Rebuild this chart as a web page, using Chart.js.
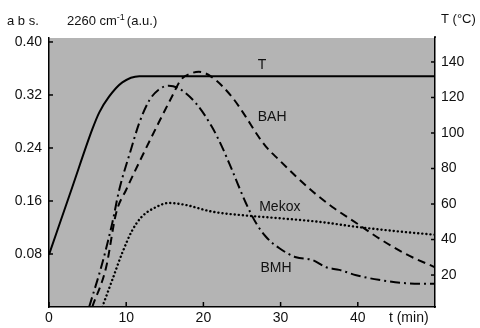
<!DOCTYPE html>
<html>
<head>
<meta charset="utf-8">
<script src="https://cdn.jsdelivr.net/npm/chart.js@4/dist/chart.umd.min.js"></script>
<style>
  html, body { margin: 0; padding: 0; background: #fff; }
  #wrap { width: 480px; height: 328px; }
</style>
</head>
<body>
<div id="wrap"><canvas id="grafico" width="480" height="328"></canvas></div>
<script>
// tempo (min) e valores
const tempT = [0, 3.0, 5.6, 6.5, 7.8, 9.5, 11.7, 50];
const tempV = [31.5, 69.3, 102, 111.5, 120.6, 128.5, 132, 132];

const bahT = [5.6, 7.4, 8.7, 10.0, 12.0, 14.2, 15.9, 17.1, 18.5, 19.4, 21.1, 23.7, 25.5, 26.8, 28.1, 29.8, 32.0, 34.6, 36.7, 39.9, 42.7, 46.2, 50];
const bahV = [0, 0.060, 0.142, 0.177, 0.226, 0.278, 0.317, 0.343, 0.353, 0.355, 0.347, 0.317, 0.287, 0.263, 0.242, 0.222, 0.197, 0.170, 0.151, 0.126, 0.104, 0.080, 0.060];

const bmhT = [5.2, 6.9, 8.2, 9.1, 10.6, 11.7, 13.0, 14.2, 15.5, 16.8, 19.0, 21.1, 22.4, 23.7, 25.5, 26.8, 28.1, 29.8, 32.0, 34.1, 35.9, 37.6, 39.8, 42.7, 46.2, 50];
const bmhV = [0, 0.066, 0.127, 0.177, 0.237, 0.278, 0.312, 0.328, 0.334, 0.330, 0.308, 0.272, 0.242, 0.207, 0.157, 0.127, 0.106, 0.089, 0.075, 0.071, 0.060, 0.056, 0.048, 0.041, 0.036, 0.035];

const mekoxT = [6.9, 8.2, 9.5, 10.8, 12.0, 13.9, 15.5, 17.7, 21.1, 25.5, 29.8, 35.4, 39.8, 46.2, 50];
const mekoxV = [0, 0.041, 0.082, 0.116, 0.136, 0.151, 0.157, 0.154, 0.144, 0.138, 0.134, 0.128, 0.121, 0.113, 0.109];

const ticksAbs = [0.08, 0.16, 0.24, 0.32, 0.40];
const ticksTemp = [20, 40, 60, 80, 100, 120, 140];
const ticksTempo = [0, 10, 20, 30, 40];
const posUnidadeTempo = 46.6;

// rótulos das curvas: [texto, t, abs]
const rotulos = [
  ['T', 27.6, 0.365],
  ['BAH', 28.9, 0.287],
  ['Mekox', 29.9, 0.151],
  ['BMH', 29.4, 0.059],
];

const pontos = (ts, vs) => ts.map((t, i) => ({ x: t, y: vs[i] }));
const fonte = '"Liberation Sans", Arial, sans-serif';

const fundoCinza = {
  id: 'fundoCinza',
  beforeDraw(chart) {
    const { ctx, chartArea: a } = chart;
    ctx.save();
    ctx.fillStyle = '#b4b4b4';
    ctx.fillRect(a.left, a.top, a.right - a.left, a.bottom - a.top);
    ctx.restore();
  },
};

const extras = {
  id: 'extras',
  afterDraw(chart) {
    const { ctx, chartArea: a, scales } = chart;
    ctx.save();
    ctx.strokeStyle = '#000';
    ctx.lineWidth = 1.5;
    // marcas para dentro
    ticksAbs.forEach(v => {
      const y = scales.y.getPixelForValue(v);
      ctx.beginPath(); ctx.moveTo(a.left - 1, y); ctx.lineTo(a.left + 4, y); ctx.stroke();
    });
    ticksTemp.forEach(v => {
      const y = scales.yT.getPixelForValue(v);
      ctx.beginPath(); ctx.moveTo(a.right - 4, y); ctx.lineTo(a.right, y); ctx.stroke();
    });
    ticksTempo.forEach(v => {
      const x = scales.x.getPixelForValue(v);
      ctx.beginPath(); ctx.moveTo(x, a.bottom - 5); ctx.lineTo(x, a.bottom); ctx.stroke();
    });
    // eixo direito sobe um pouco
    ctx.beginPath(); ctx.moveTo(a.right, a.top - 2); ctx.lineTo(a.right, a.top); ctx.stroke();

    // rótulos das curvas
    ctx.fillStyle = '#111';
    ctx.font = '14px ' + fonte;
    ctx.textAlign = 'center';
    ctx.textBaseline = 'middle';
    rotulos.forEach(([txt, t, v]) => {
      ctx.fillText(txt, scales.x.getPixelForValue(t), scales.y.getPixelForValue(v));
    });

    // títulos dos eixos
    ctx.textAlign = 'left';
    ctx.textBaseline = 'alphabetic';
    ctx.font = '13px ' + fonte;
    ctx.fillText('a b s.', 7, 25);
    let x = 67;
    ctx.fillText('2260 cm', x, 25);
    x += ctx.measureText('2260 cm').width;
    ctx.font = '9px ' + fonte;
    ctx.fillText('-1', x, 20);
    x += ctx.measureText('-1').width + 2;
    ctx.font = '13px ' + fonte;
    ctx.fillText('(a.u.)', x, 25);
    ctx.fillText('T (\u00B0C)', 441, 23);
    ctx.restore();
  },
};

const ctx = document.getElementById('grafico').getContext('2d');
new Chart(ctx, {
  type: 'line',
  data: {
    datasets: [
      {
        label: 'T',
        data: pontos(tempT, tempV),
        yAxisID: 'yT',
        borderColor: '#000',
        borderWidth: 2,
        cubicInterpolationMode: 'monotone',
        pointRadius: 0,
        fill: false,
      },
      {
        label: 'BAH',
        data: pontos(bahT, bahV),
        yAxisID: 'y',
        borderColor: '#000',
        borderWidth: 2,
        borderDash: [8, 5],
        cubicInterpolationMode: 'monotone',
        pointRadius: 0,
        fill: false,
      },
      {
        label: 'BMH',
        data: pontos(bmhT, bmhV),
        yAxisID: 'y',
        borderColor: '#000',
        borderWidth: 2,
        borderDash: [10, 4, 2, 4],
        cubicInterpolationMode: 'monotone',
        pointRadius: 0,
        fill: false,
      },
      {
        label: 'Mekox',
        data: pontos(mekoxT, mekoxV),
        yAxisID: 'y',
        borderColor: '#000',
        borderWidth: 2.4,
        borderDash: [0.1, 4],
        borderCapStyle: 'round',
        cubicInterpolationMode: 'monotone',
        pointRadius: 0,
        fill: false,
      },
    ],
  },
  options: {
    responsive: false,
    animation: false,
    layout: { padding: { top: 38, left: 0, right: 0, bottom: 0 } },
    plugins: {
      legend: { display: false },
      tooltip: { enabled: false },
    },
    scales: {
      x: {
        type: 'linear',
        min: 0,
        max: 50,
        afterBuildTicks: s => { s.ticks = ticksTempo.concat([posUnidadeTempo]).map(v => ({ value: v })); },
        afterFit: s => { s.height = 21; },
        ticks: {
          autoSkip: false,
          maxRotation: 0,
          padding: 3,
          color: '#111',
          font: { family: fonte, size: 14 },
          callback: v => (v === posUnidadeTempo ? 't (min)' : String(v)),
        },
        grid: { display: false, drawTicks: false },
        border: { display: true, color: '#000', width: 1.5 },
      },
      y: {
        position: 'left',
        min: 0,
        max: 0.406,
        afterBuildTicks: s => { s.ticks = ticksAbs.map(v => ({ value: v })); },
        afterFit: s => { s.width = 49; },
        ticks: {
          padding: 7,
          color: '#111',
          font: { family: fonte, size: 14 },
          callback: v => v.toFixed(2),
        },
        grid: { display: false, drawTicks: false },
        border: { display: true, color: '#000', width: 1.5 },
      },
      yT: {
        position: 'right',
        min: 2,
        max: 153.5,
        afterBuildTicks: s => { s.ticks = ticksTemp.map(v => ({ value: v })); },
        afterFit: s => { s.width = 45; },
        ticks: {
          padding: 6,
          color: '#111',
          font: { family: fonte, size: 14 },
        },
        grid: { display: false, drawTicks: false },
        border: { display: true, color: '#000', width: 1.5 },
      },
    },
  },
  plugins: [fundoCinza, extras],
});
</script>
</body>
</html>
